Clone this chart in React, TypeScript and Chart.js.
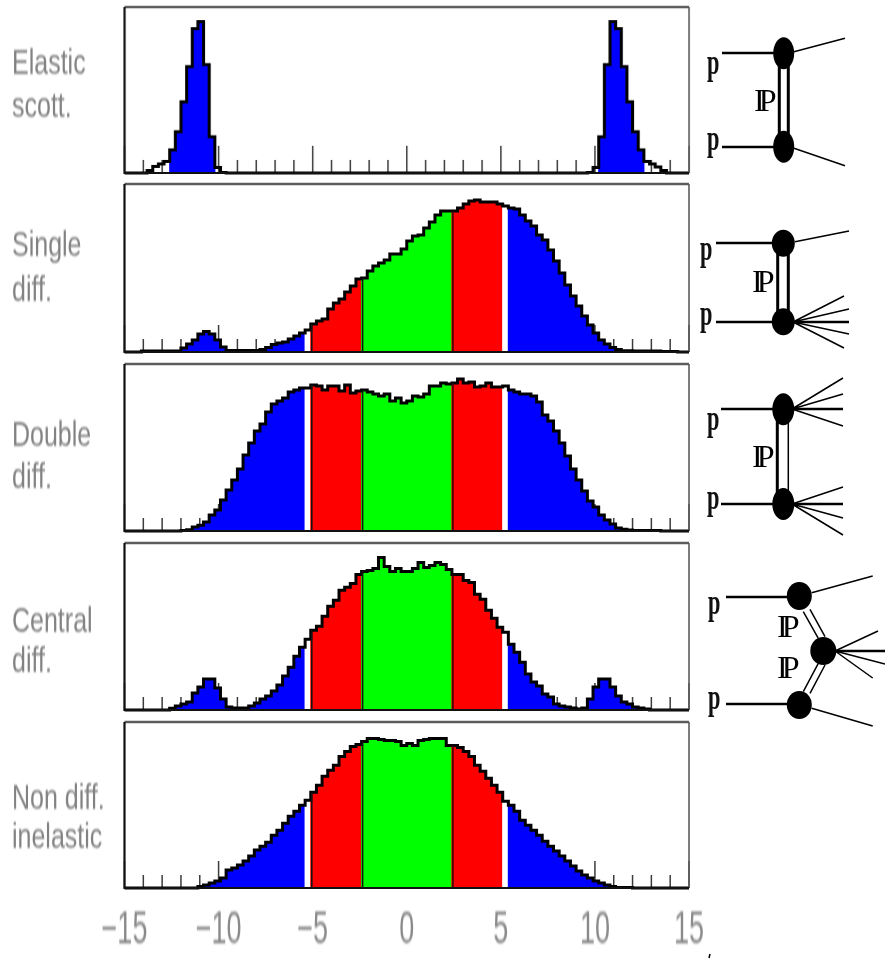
import React, { useEffect, useRef } from "react";
import { Chart, registerables } from "chart.js";

Chart.register(...registerables);

const BIN_WIDTH = 0.3;
const AXIS_MIN = -15;
const AXIS_MAX = 15;

const elastic = [
  0, 0, 0, 0, 2.5, 6.5, 9, 11.5, 23, 41,
  71, 106, 144, 151, 108, 36, 5.5, 0.5, 0, 0,
  0, 0, 0, 0, 0, 0, 0, 0, 0, 0,
  0, 0, 0, 0, 0, 0, 0, 0, 0, 0,
  0, 0, 0, 0, 0, 0, 0, 0, 0, 0,
  0, 0, 0, 0, 0, 0, 0, 0, 0, 0,
  0, 0, 0, 0, 0, 0, 0, 0, 0, 0,
  0, 0, 0, 0, 0, 0, 0, 0, 0, 0,
  0, 0, 0.5, 5.5, 36, 108, 151, 144, 106, 71,
  41, 23, 11.5, 9, 6, 2.5, 0, 0, 0, 0,
];
const singleDiff = [
  0, 0, 0, 1, 1, 1, 1, 1, 1, 1,
  4, 8, 12, 18, 20.5, 18, 12, 5, 1.5, 1.5,
  1.5, 1.5, 1.5, 1.5, 2.5, 4.5, 7.5, 9, 10, 13,
  16, 19, 22, 28, 31, 33, 43, 49, 53, 60,
  66, 73, 74, 81, 86, 89, 92, 98, 98, 103,
  111, 116, 117, 124, 130, 137, 141, 141, 141, 144,
  148, 151, 152, 150, 150, 150, 148, 146, 144, 143,
  137, 131, 126, 117, 112, 102, 91, 79, 67, 56,
  46, 36, 27, 19, 12, 8, 4.5, 2.5, 1.3, 1.3,
  1, 1, 1, 1, 1, 0.5, 0.5, 0.5, 0, 0,
];
const doubleDiff = [
  0, 0, 0, 0, 0, 0, 0, 0, 0, 0,
  0.5, 1.3, 4, 5.7, 9, 16, 21, 31, 41, 51,
  62, 76, 88, 100, 107, 119, 127, 130, 133, 139,
  141, 143, 143, 146, 145, 141, 145, 145, 140, 146,
  138, 140, 141, 139, 137, 135, 137, 130, 133, 128,
  130, 135, 134, 137, 145, 145, 148, 147, 148, 152,
  148, 149, 144, 145, 148, 144, 144, 145, 141, 139,
  137, 137, 135, 129, 116, 110, 100, 88, 75, 62,
  51, 40, 30, 24, 16, 11, 7, 3, 1.7, 1,
  0.5, 0.5, 0.5, 0.5, 0.5, 0, 0, 0, 0, 0,
];
const centralDiff = [
  0, 0, 0, 0, 0, 0, 0, 0, 1.7, 4,
  6, 8, 17, 23, 31, 31, 22, 11, 3, 2,
  2, 2, 4, 7, 11, 14, 19, 25, 34, 43,
  54, 63, 71, 80, 84, 94, 104, 110, 120, 123,
  127, 136, 139, 140, 142, 153, 144, 139, 142, 139,
  139, 142, 148, 143, 145, 148, 146, 141, 136, 136,
  130, 128, 116, 111, 100, 92, 83, 78, 66, 58,
  48, 36, 28, 24, 16, 13, 6, 4, 3, 2,
  1, 2, 11, 23, 31, 31, 23, 14, 8, 6,
  3, 2, 1, 0, 0, 0, 0, 0, 0, 0,
];
const nonDiff = [
  0, 0, 0, 0, 0, 0, 0, 0, 0, 0,
  0, 0, 0, 1.5, 3, 5, 7, 10, 18, 20,
  23, 27, 32, 38, 42, 46, 53, 58, 65, 72,
  77, 83, 88, 96, 103, 112, 118, 123, 132, 137,
  142, 144, 147, 150, 150, 149, 148, 148, 147, 143,
  145, 143, 148, 149, 150, 150, 150, 143, 143, 141,
  137, 132, 123, 117, 110, 103, 96, 87, 83, 77,
  68, 63, 58, 53, 47, 42, 37, 32, 27, 22,
  17, 13, 10, 7, 5, 3, 1.5, 0.5, 0.5, 0.5,
  0, 0, 0, 0, 0, 0, 0, 0, 0, 0,
];

const blueRanges = [
  [[8, 15], [84, 91]],
  [[9, 87]],
  [[11, 88]],
  [[9, 91]],
  [[14, 85]],
];

const panelValues = [elastic, singleDiff, doubleDiff, centralDiff, nonDiff];
const panelBoxes = [
  { top: 7, bottom: 172.5, yMax: 165.5 },
  { top: 184, bottom: 352, yMax: 168 },
  { top: 363.5, bottom: 530.5, yMax: 167 },
  { top: 542.5, bottom: 710, yMax: 167.5 },
  { top: 721.5, bottom: 888, yMax: 166.5 },
];

const PLOT_LEFT = 124.5;
const PLOT_RIGHT = 689;
const CANVAS_LEFT = 70;
const CANVAS_RIGHT = 745;

const sideLabels: [string, number][] = [
  ["Elastic", 75],
  ["scott.", 118],
  ["Single", 257],
  ["diff.", 302],
  ["Double", 447],
  ["diff.", 489],
  ["Central", 633],
  ["diff.", 673],
  ["Non diff.", 810],
  ["inelastic", 849],
];

// Feynman sketches, drawn in page units: x1, y1, x2, y2
const thickLines = [
  [722, 53, 775, 53], [722, 147, 775, 147],
  [716, 243, 775, 243], [716, 322, 775, 322], [793, 322, 849, 322],
  [721, 409, 775, 409], [792, 409, 843, 409], [721, 504, 775, 504], [792, 504, 843, 504],
  [726, 597, 790, 597], [726, 704, 790, 704], [835, 651, 885, 651],
];
const tubeLines = [
  [779.3, 53, 779.3, 147], [788.3, 53, 788.3, 147],
  [777.7, 243, 777.7, 322], [788.3, 243, 788.3, 322],
  [777.3, 409, 777.3, 504],
];
const thinLines = [
  [794, 51.7, 845, 38.3], [794, 148.3, 845, 165.7],
  [795, 241.7, 849, 231], [793, 322, 844, 296], [793, 322, 849, 309], [793, 322, 849, 334], [793, 322, 844, 348],
  [792, 409, 843, 378], [792, 409, 843, 394], [792, 409, 843, 426],
  [792, 504, 843, 487], [792, 504, 843, 518], [792, 504, 843, 535],
  [788.3, 409, 788.3, 504],
  [811.7, 592.7, 872.7, 576], [811.7, 708.3, 872.7, 726],
  [835, 651, 878, 631], [835, 651, 885, 664], [835, 651, 872.7, 678],
  [803.3, 611.7, 818.3, 638.3], [810, 609.3, 825, 636.7],
  [818.3, 663.3, 803.3, 691.7], [825, 665, 810, 693.3],
  [709, 958, 710, 954],
];
const blobs = [
  [783.7, 53.3, 10.5, 16], [783.7, 146.7, 10.5, 16],
  [783.3, 243.3, 11.5, 13.5], [783.3, 321.7, 11.5, 13.5],
  [783.3, 409.3, 11, 16], [783.3, 504, 11, 16],
  [799.3, 596, 12.5, 14], [823.3, 651, 13, 14], [799.3, 705, 12.5, 14],
];
const protonLabels = [
  [707, 76], [707, 152], [700, 262], [700, 327], [707, 432], [707, 511], [708, 616], [708, 711],
];
const pomeronLabels = [
  [754, 112], [752, 293], [752, 468], [777, 638], [777, 679],
];

const BLUE = "#0000ff";
const RED = "#ff0000";
const GREEN = "#00ff00";
const BLUR = "blur(0.65px)";

function binColor(i: number, ranges: number[][]) {
  if (i >= 42 && i <= 57) return GREEN;
  if ((i >= 33 && i <= 41) || (i >= 58 && i <= 66)) return RED;
  if (i === 32 || i === 67) return "#ffffff";
  return ranges.some((r) => i >= r[0] && i <= r[1]) ? BLUE : "rgba(0,0,0,0)";
}

const panelDecor = {
  id: "panelDecor",
  beforeDatasetsDraw(chart: any) {
    const { ctx, chartArea, scales } = chart;
    ctx.save();
    ctx.strokeStyle = "#3c3c3c";
    ctx.lineWidth = 1.5;
    for (const t of scales.x.ticks) {
      const px = scales.x.getPixelForValue(t.value);
      const len = t.value % 5 === 0 ? 27 : 13;
      ctx.beginPath();
      ctx.moveTo(px, chartArea.bottom);
      ctx.lineTo(px, chartArea.bottom - len);
      ctx.stroke();
    }
    ctx.restore();
  },
  afterDatasetsDraw(chart: any, _a: any, opts: any) {
    const { ctx, chartArea: a, scales } = chart;
    ctx.save();
    if (opts.bands) {
      [[33, "#141414", -5.1], [42, "#141414", -2.4], [58, "#400000", 2.4]].forEach(([bin, col, edge]: any) => {
        const px = scales.x.getPixelForValue(edge) + 1;
        ctx.strokeStyle = col;
        ctx.lineWidth = 1.6;
        ctx.beginPath();
        ctx.moveTo(px, a.bottom);
        ctx.lineTo(px, scales.y.getPixelForValue(opts.values[bin]));
        ctx.stroke();
      });
    }
    ctx.strokeStyle = "#5c5c5c";
    ctx.lineWidth = 2.6;
    ctx.beginPath();
    ctx.moveTo(a.left, a.top);
    ctx.lineTo(a.right, a.top);
    ctx.stroke();
    ctx.lineWidth = 1.6;
    ctx.beginPath();
    ctx.moveTo(a.right, a.top);
    ctx.lineTo(a.right, a.bottom);
    ctx.stroke();
    ctx.strokeStyle = "#111";
    ctx.lineWidth = 2.2;
    ctx.beginPath();
    ctx.moveTo(a.left, a.top);
    ctx.lineTo(a.left, a.bottom);
    ctx.lineTo(a.right, a.bottom);
    ctx.stroke();
    ctx.restore();
  },
};

const blobPlugin = {
  id: "blobPlugin",
  afterDatasetsDraw(chart: any) {
    const { ctx, scales } = chart;
    ctx.save();
    ctx.fillStyle = "#000";
    for (const [x, y, rx, ry] of blobs) {
      ctx.beginPath();
      ctx.ellipse(scales.x.getPixelForValue(x), scales.y.getPixelForValue(y), rx, ry, 0, 0, Math.PI * 2);
      ctx.fill();
    }
    ctx.restore();
  },
};

function segmentsToPoints(list: number[][]) {
  const pts: any[] = [];
  for (const s of list) {
    pts.push({ x: s[0], y: s[1] }, { x: s[2], y: s[3] }, { x: NaN, y: NaN });
  }
  return pts;
}

function Panel({ index }: { index: number }) {
  const ref = useRef<HTMLCanvasElement>(null);
  const box = panelBoxes[index];
  const values = panelValues[index];
  const ranges = blueRanges[index];
  const height = box.bottom - box.top + 12;
  useEffect(() => {
    const centers = values.map((_, i) => AXIS_MIN + BIN_WIDTH * (i + 0.5));
    const bars = values.map((v, i) => ({ x: centers[i], y: v }));
    const outline = [{ x: AXIS_MIN, y: values[0] }, ...bars, { x: AXIS_MAX, y: values[values.length - 1] }];
    const chart = new Chart(ref.current as HTMLCanvasElement, {
      type: "bar",
      data: {
        datasets: [
          {
            type: "line",
            data: outline,
            borderColor: "#000",
            borderWidth: 3,
            stepped: "middle",
            pointRadius: 0,
            clip: false,
            order: 0,
          },
          {
            type: "bar",
            data: bars,
            backgroundColor: values.map((_, i) => binColor(i, ranges)),
            borderWidth: 0,
            categoryPercentage: 1,
            barPercentage: 1.2,
            grouped: false,
            order: 1,
          },
        ],
      } as any,
      options: {
        animation: false,
        responsive: false,
        layout: {
          padding: {
            left: PLOT_LEFT - CANVAS_LEFT,
            right: CANVAS_RIGHT - PLOT_RIGHT,
            top: 6,
            bottom: 6,
          },
        },
        scales: {
          x: {
            type: "linear",
            min: AXIS_MIN,
            max: AXIS_MAX,
            offset: false,
            display: false,
            ticks: { stepSize: 1, autoSkip: false },
          },
          y: { type: "linear", min: 0, max: box.yMax, display: false },
        },
        plugins: {
          legend: { display: false },
          tooltip: { enabled: false },
          panelDecor: { bands: index > 0, values },
        },
      } as any,
      plugins: [panelDecor],
    });
    return () => chart.destroy();
  }, []);
  return (
    <canvas
      ref={ref}
      width={CANVAS_RIGHT - CANVAS_LEFT}
      height={height}
      style={{
        position: "absolute",
        left: CANVAS_LEFT,
        top: box.top - 6,
        width: CANVAS_RIGHT - CANVAS_LEFT,
        height,
        filter: BLUR,
      }}
    />
  );
}

function AxisStrip() {
  const ref = useRef<HTMLCanvasElement>(null);
  useEffect(() => {
    const chart = new Chart(ref.current as HTMLCanvasElement, {
      type: "scatter",
      data: { datasets: [{ data: [] }] },
      options: {
        animation: false,
        responsive: false,
        layout: { padding: { left: PLOT_LEFT - CANVAS_LEFT, right: CANVAS_RIGHT - PLOT_RIGHT, top: 0, bottom: 0 } },
        scales: {
          x: {
            type: "linear",
            min: AXIS_MIN,
            max: AXIS_MAX,
            grid: { display: false, drawTicks: false },
            border: { display: false },
            ticks: {
              stepSize: 5,
              autoSkip: false,
              maxRotation: 0,
              padding: 0,
              color: "#8a8a8a",
              font: { family: "'Liberation Sans', Arial, sans-serif", size: 27 },
              callback: (v: any) => String(v).replace("-", "\u2212"),
            },
          },
          y: { display: false, min: 0, max: 1 },
        },
        plugins: { legend: { display: false }, tooltip: { enabled: false } },
      } as any,
    });
    return () => chart.destroy();
  }, []);
  return (
    <canvas
      ref={ref}
      width={CANVAS_RIGHT - CANVAS_LEFT}
      height={80}
      style={{
        position: "absolute",
        left: CANVAS_LEFT,
        top: 824,
        width: CANVAS_RIGHT - CANVAS_LEFT,
        height: 80,
        transform: "scaleY(1.68)",
        transformOrigin: "top left",
        filter: BLUR,
      }}
    />
  );
}

function Sketches() {
  const ref = useRef<HTMLCanvasElement>(null);
  useEffect(() => {
    const line = (list: number[][], w: number) => ({
      data: segmentsToPoints(list),
      showLine: true,
      borderColor: "#000",
      borderWidth: w,
      pointRadius: 0,
      spanGaps: false,
    });
    const chart = new Chart(ref.current as HTMLCanvasElement, {
      type: "scatter",
      data: { datasets: [line(thickLines, 2.6), line(tubeLines, 3), line(thinLines, 1.5)] },
      options: {
        animation: false,
        responsive: false,
        layout: { padding: 0 },
        scales: {
          x: { type: "linear", min: 0, max: 885, display: false },
          y: { type: "linear", min: 0, max: 959, reverse: true, display: false },
        },
        plugins: { legend: { display: false }, tooltip: { enabled: false } },
      } as any,
      plugins: [blobPlugin],
    });
    return () => chart.destroy();
  }, []);
  return (
    <canvas
      ref={ref}
      width={885}
      height={959}
      style={{ position: "absolute", left: 0, top: 0, width: 885, height: 959, filter: BLUR }}
    />
  );
}

export default function App() {
  return (
    <div
      style={{
        position: "absolute",
        left: 0,
        top: 0,
        width: 885,
        height: 959,
        overflow: "hidden",
        background: "#fff",
      }}
    >
      {sideLabels.map(([text, base], i) => (
        <div
          key={"s" + i}
          style={{
            position: "absolute",
            left: 12,
            top: base - 29.6,
            fontFamily: "'Liberation Sans', Arial, sans-serif",
            fontSize: 25,
            lineHeight: "25px",
            color: "#828282",
            whiteSpace: "nowrap",
            transform: "scaleY(1.4)",
            transformOrigin: "top left",
            filter: BLUR,
          }}
        >
          {text}
        </div>
      ))}
      <Sketches />
      {panelBoxes.map((_, i) => (
        <Panel key={i} index={i} />
      ))}
      <AxisStrip />
      {protonLabels.map(([x, y], i) => (
        <div
          key={"p" + i}
          style={{
            position: "absolute",
            left: x,
            top: y - 32,
            fontFamily: "'Liberation Serif', serif",
            fontWeight: "bold",
            fontSize: 36,
            lineHeight: "36px",
            color: "#111",
            transform: "scaleX(0.62)",
            transformOrigin: "top left",
            filter: BLUR,
          }}
        >
          p
        </div>
      ))}
      {pomeronLabels.map(([x, y], i) => (
        <div
          key={"q" + i}
          style={{
            position: "absolute",
            left: x,
            top: y - 28,
            fontFamily: "'Liberation Serif', serif",
            fontSize: 32,
            lineHeight: "32px",
            letterSpacing: -6,
            color: "#000",
            whiteSpace: "nowrap",
            filter: BLUR,
          }}
        >
          IP
        </div>
      ))}
    </div>
  );
}
